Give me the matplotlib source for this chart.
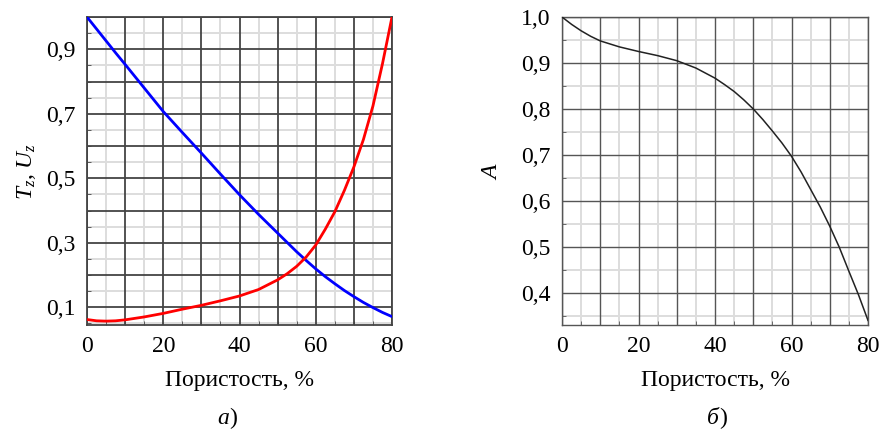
import matplotlib
matplotlib.use('Agg')
import matplotlib.pyplot as plt
from matplotlib.ticker import MultipleLocator, FixedLocator, FuncFormatter

plt.rcParams['font.family'] = 'Liberation Serif'
plt.rcParams['mathtext.fontset'] = 'custom'
plt.rcParams['mathtext.rm'] = 'Liberation Serif'
plt.rcParams['mathtext.it'] = 'Liberation Serif:italic'

FS = 17

# porosity, %
por = [0, 2.5, 5, 7.5, 10, 15, 20, 25, 30, 35, 40, 45, 50, 52.5, 55, 57.5,
       60, 62.5, 65, 67.5, 70, 72.5, 75, 77.5, 80]
# T_z (blue)
t_z = [1.0, 0.963, 0.926, 0.889, 0.853, 0.78, 0.707, 0.642, 0.578, 0.513,
       0.449, 0.388, 0.33, 0.301, 0.272, 0.245, 0.219, 0.195, 0.173, 0.152,
       0.133, 0.115, 0.099, 0.084, 0.071]
# U_z (red)
u_z = [0.062, 0.058, 0.057, 0.058, 0.061, 0.07, 0.081, 0.094, 0.106, 0.12,
       0.135, 0.155, 0.185, 0.204, 0.227, 0.256, 0.293, 0.342, 0.396, 0.462,
       0.535, 0.62, 0.724, 0.855, 1.0]

por_b = [0, 2.5, 5, 7.5, 10, 15, 20, 25, 30, 35, 40, 42.5, 45, 47.5, 50,
         52.5, 55, 57.5, 60, 62.5, 65, 67.5, 70, 72.5, 75, 77.5, 80]
a_val = [1.0, 0.984, 0.97, 0.958, 0.948, 0.935, 0.925, 0.916, 0.905, 0.889,
         0.867, 0.853, 0.838, 0.82, 0.8, 0.777, 0.752, 0.726, 0.697, 0.663,
         0.625, 0.587, 0.545, 0.499, 0.447, 0.396, 0.34]

left_ticks = [0.1, 0.3, 0.5, 0.7, 0.9]
right_ticks = [0.4, 0.5, 0.6, 0.7, 0.8, 0.9, 1.0]
x_ticks = [0, 20, 40, 60, 80]

comma = FuncFormatter(lambda v, p: ('%.1f' % v).replace('.', ','))

fig = plt.figure(figsize=(8.8, 4.3), dpi=100)
ax1 = fig.add_axes([87 / 880, 1 - 325 / 430, 305 / 880, 308 / 430])
ax2 = fig.add_axes([562 / 880, 1 - 325 / 430, 306 / 880, 308 / 430])


def style(ax, ymin, major_col, major_lw):
    ax.set_xlim(0, 80)
    ax.set_ylim(ymin, 1.0)
    ax.xaxis.set_major_locator(FixedLocator(x_ticks))
    ax.xaxis.set_minor_locator(MultipleLocator(5))
    ax.yaxis.set_minor_locator(MultipleLocator(0.05))
    ax.yaxis.set_major_formatter(comma)
    for v in range(0, 81, 10):
        ax.axvline(v, color=major_col, lw=major_lw, zorder=1)
    for v in range(5, 80, 10):
        ax.axvline(v, color='#dddddd', lw=1.4, zorder=0)
    k = 0
    while k * 0.05 <= 1.0001:
        y = round(k * 0.05, 2)
        if y >= ymin:
            if k % 2 == 0:
                ax.axhline(y, color=major_col, lw=major_lw, zorder=1)
            else:
                ax.axhline(y, color='#dddddd', lw=1.4, zorder=0)
        k += 1
    for s in ax.spines.values():
        s.set_color(major_col)
        s.set_linewidth(major_lw)
    ax.tick_params(which='both', direction='in', colors=major_col,
                   labelcolor='black', labelsize=FS, length=3, pad=8)
    ax.tick_params(which='major', length=0)
    ax.set_xlabel('Пористость, %', fontsize=FS, labelpad=9)


style(ax1, 0.045, '#444444', 1.3)
ax1.yaxis.set_major_locator(FixedLocator(left_ticks))
ax1.plot(por, t_z, color='#0000ff', lw=2.0, zorder=3)
ax1.plot(por, u_z, color='#ff0000', lw=2.0, zorder=3)
ax1.set_ylabel('$T_z$, $U_z$', fontsize=FS, labelpad=6)

style(ax2, 0.33, '#555555', 1.0)
ax2.yaxis.set_major_locator(FixedLocator(right_ticks))
ax2.plot(por_b, a_val, color='#222222', lw=1.1, zorder=3)
ax2.set_ylabel('$A$', fontsize=FS, labelpad=14)

for x, letter in [(229 / 880, 'а'), (719 / 880, 'б')]:
    fig.text(x, 1 - 418 / 430, letter, style='italic', fontsize=FS,
             ha='right', va='center')
    fig.text(x, 1 - 418 / 430, ')', fontsize=FS, ha='left', va='center')

fig.savefig('out.png', dpi=100)
